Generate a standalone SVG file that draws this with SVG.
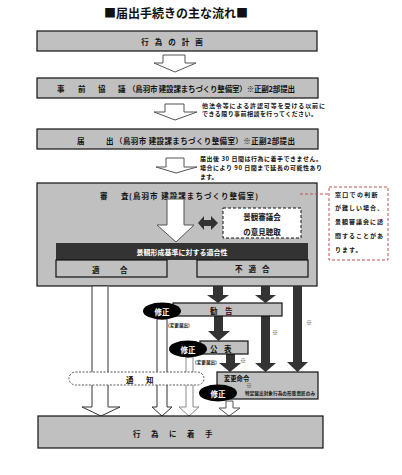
<svg xmlns="http://www.w3.org/2000/svg" width="402" height="475" viewBox="0 0 402 475">
<style>
text{font-family:"Noto Sans CJK JP","Noto Sans",sans-serif;fill:#111;}
.box{fill:#c0c0c0;stroke:#111;stroke-width:1.2;}
.lbl{font-size:7.5px;font-weight:bold;dominant-baseline:central;}
.sm{font-size:6px;font-weight:bold;}
.hollow{fill:#fff;stroke:#555;stroke-width:1;}
.dark{fill:#333;}
.ell{fill:#000;}
.wt{fill:#fff;font-size:7.5px;font-weight:bold;dominant-baseline:central;text-anchor:middle;}
.tiny{font-size:4.6px;font-weight:bold;}
.mk{font-size:6px;fill:#444;}
</style>
<rect width="402" height="475" fill="#fff"/>
<text x="176" y="12" font-size="12" font-weight="bold" text-anchor="middle" dominant-baseline="central">■届出手続きの主な流れ■</text>

<g id="plan">
<rect class="box" x="37" y="31" width="280" height="20"/>
<text class="lbl" x="175" y="41" text-anchor="middle" font-size="8" letter-spacing="6">行為の計画</text>
</g>

<g id="prior">
<rect class="box" x="37" y="78" width="281" height="20"/>
<text class="lbl" y="88"><tspan x="57">事</tspan><tspan x="78">前</tspan><tspan x="98">協</tspan><tspan x="118">議</tspan></text>
<text class="lbl" x="128" y="88" font-size="6.4" textLength="167">（鳥羽市 建設課まちづくり整備室）※正副2部提出</text>
</g>

<g id="notice1">
<text class="sm" x="202" y="108" font-size="5.5" textLength="123">他法令等による許認可等を受ける以前に</text>
<text class="sm" x="202" y="115.5" font-size="5.5" textLength="115">できる限り事前相談を行ってください。</text>
</g>

<g id="submit">
<rect class="box" x="37" y="129" width="281" height="20"/>
<text class="lbl" y="140"><tspan x="77">届</tspan><tspan x="106">出</tspan></text>
<text class="lbl" x="115" y="140" font-size="6.4" textLength="180">（鳥羽市 建設課まちづくり整備室）※正副2部提出</text>
</g>

<g id="notice2">
<text class="sm" x="200" y="161" textLength="122">届出後 30 日間は行為に着手できません。</text>
<text class="sm" x="200" y="170" textLength="122">場合により 90 日間まで延長の可能性あり</text>
<text class="sm" x="200" y="179">ます。</text>
</g>

<g id="review">
<rect class="box" x="37" y="183" width="280" height="103"/>
<text class="lbl" y="195" font-size="8"><tspan x="100">審</tspan><tspan x="121">査</tspan></text>
<text class="lbl" x="129" y="195" font-size="7.5" textLength="129">(鳥羽市 建設課まちづくり整備室)</text>
<polygon class="hollow" points="167,199 184,199 184,225 194,225 176,242 157,225 167,225"/>
<polygon class="dark" points="198,223 204,216 204,220 211,220 211,216 218,223 211,230 211,226 204,226 204,230"/>
</g>

<g id="council">
<rect x="223" y="208" width="78" height="30" fill="#fff" stroke="#111" stroke-width="1" stroke-dasharray="3 2"/>
<text class="lbl" x="262" y="216" font-size="6.5" text-anchor="middle">景観審議会</text>
<text class="lbl" x="262" y="231" font-size="6.5" text-anchor="middle">の意見聴取</text>
</g>

<g id="criteria">
<rect x="56" y="243" width="252" height="17" fill="#333"/>
<text x="182" y="251.5" font-size="7" font-weight="bold" style="fill:#fff" text-anchor="middle" dominant-baseline="central">景観形成基準に対する適合性</text>
</g>

<g id="conform">
<rect class="box" x="56" y="260" width="111" height="17"/>
<text class="lbl" y="268.5"><tspan x="92">適</tspan><tspan x="120">合</tspan></text>
</g>

<g id="nonconform">
<rect class="box" x="197" y="260" width="111" height="17"/>
<text class="lbl" x="235" y="268.5" letter-spacing="6">不適合</text>
</g>

<g id="remark">
<rect x="329" y="187" width="59" height="73" fill="#fff" stroke="#c0504d" stroke-width="1" stroke-dasharray="3 2"/>
<text class="sm" x="335" y="197" letter-spacing="1.3">窓口での判断</text>
<text class="sm" x="335" y="210" letter-spacing="1">が難しい場合、</text>
<text class="sm" x="335" y="224" letter-spacing="1">景観審議会に諮</text>
<text class="sm" x="335" y="238" letter-spacing="1">問することがあ</text>
<text class="sm" x="335" y="252" letter-spacing="1">ります。</text>
</g>

<g id="connectors">
<polygon class="hollow" points="163,55 185,55 185,63 196,63 175,72 154,63 163,63"/>
<polygon class="hollow" points="165,104 184,104 184,112 197,112 175,120 154,112 165,112"/>
<polygon class="hollow" points="166,158 184,158 184,167 197,167 176,173 156,167 166,167"/>
<line x1="300" y1="194" x2="328" y2="194" stroke="#c0504d" stroke-width="1" stroke-dasharray="3 2"/>

<polygon points="92,286 92,407 82,407 101,416 120,407 108,407 108,286" fill="#fff" stroke="#333" stroke-width="1"/>
<line x1="108" y1="286" x2="108" y2="407" stroke="#999" stroke-width="1.2"/>
<polygon points="157,319 157,407 152,407 162,416 172,407 167,407 167,319" fill="#fff" stroke="#333" stroke-width="1"/>
<polygon points="186,357 186,407 179,407 189,416 199,407 193,407 193,357" fill="#fff" stroke="#888" stroke-width="1"/>
<polygon points="226,401 226,408 219,408 229,416 240,408 233,408 233,401" fill="#fff" stroke="#555" stroke-width="1"/>

<polygon class="dark" points="213,286 223,286 223,295 229,295 218,303 207,295 213,295"/>
<polygon class="dark" points="261,286 270,286 270,295 276,295 265.5,303 255,295 261,295"/>
<polygon class="dark" points="214,316 223,316 223,331 230,331 218.5,341 208,331 214,331"/>
<polygon class="dark" points="261,316 270,316 270,363 276,363 265.5,372 255,363 261,363"/>
<polygon class="dark" points="293,286 302,286 302,362 308,362 297.5,372 287,362 293,362"/>
<polygon class="dark" points="226,354 235,354 235,363 241,363 230,372 219,363 226,363"/>
<text class="mk" x="272" y="335">※</text>
<text class="mk" x="306" y="325">※</text>
<text class="mk" x="240" y="363">※</text>
</g>

<g id="notify">
<rect x="69" y="372" width="135" height="13" rx="6.5" fill="#fff" stroke="#555" stroke-width="1" stroke-dasharray="2 1.5"/>
<text class="lbl" y="378.5" font-size="7"><tspan x="126">通</tspan><tspan x="146">知</tspan></text>
</g>

<g id="recommend">
<rect class="box" x="173" y="303" width="109" height="13"/>
<text class="lbl" y="309.5" font-size="7"><tspan x="210">勧</tspan><tspan x="225">告</tspan></text>
</g>

<g id="publish">
<rect class="box" x="200" y="341" width="48" height="13"/>
<text class="lbl" y="347.5" font-size="7"><tspan x="210">公</tspan><tspan x="224">表</tspan></text>
</g>

<g id="order">
<rect class="box" x="217" y="372" width="101" height="27"/>
<text x="224" y="380.5" font-size="6.3" font-weight="bold">変更命令</text>
<text class="mk" x="246" y="388" font-size="4.5">※</text>
<text class="tiny" x="245" y="395" textLength="70">特定届出対象行為の形態意匠のみ</text>
</g>

<g id="fix1">
<ellipse class="ell" cx="162" cy="311" rx="19" ry="8.5"/>
<text class="wt" x="162" y="311">修正</text>
<text class="tiny" x="168" y="327">(変更届出)</text>
</g>

<g id="fix2">
<ellipse class="ell" cx="188" cy="349" rx="19" ry="8.5"/>
<text class="wt" x="188" y="349">修正</text>
<text class="tiny" x="195" y="364">(変更届出)</text>
</g>

<g id="fix3">
<ellipse class="ell" cx="218" cy="393" rx="19" ry="8.5"/>
<text class="wt" x="218" y="393">修正</text>
</g>

<g id="start">
<rect class="box" x="38" y="416" width="285" height="32" stroke-width="1.5"/>
<text class="lbl" x="133" y="433" font-size="8" letter-spacing="10.5">行為に着手</text>
</g>
</svg>
